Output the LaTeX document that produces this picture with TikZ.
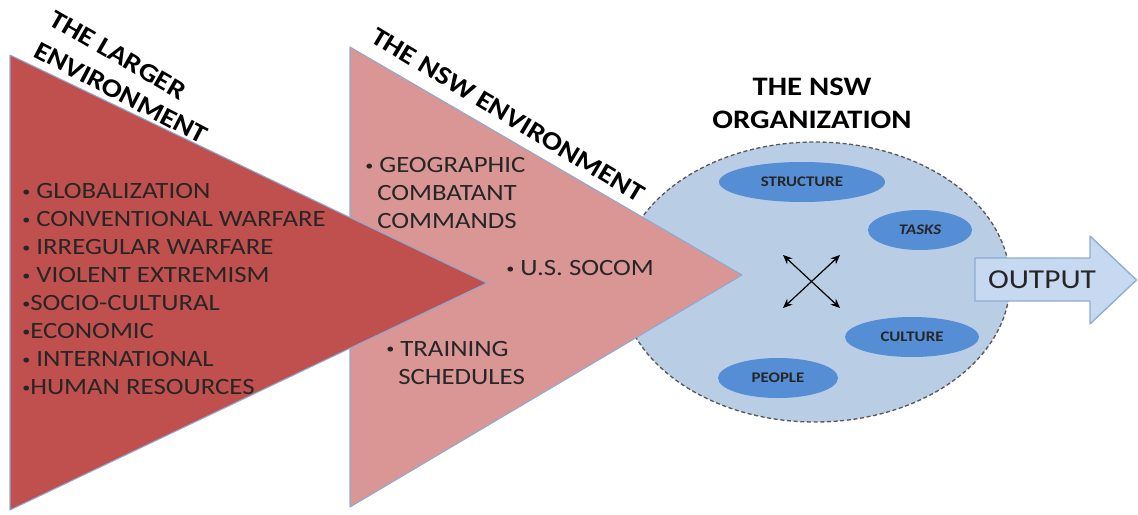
\documentclass[tikz,border=0pt]{standalone}
\usepackage{graphicx}
\usepackage{fontspec}
\setmainfont{Carlito}
\usetikzlibrary{shapes.geometric,arrows.meta}
\definecolor{redtri}{RGB}{192,80,77}
\definecolor{pinktri}{RGB}{217,150,148}
\definecolor{orgfill}{RGB}{185,205,229}
\definecolor{innerfill}{RGB}{85,142,213}
\definecolor{outfill}{RGB}{198,217,241}
\definecolor{edgeblue}{RGB}{143,170,210}
\definecolor{txt}{RGB}{38,38,38}
\newcommand\wide[1]{\scalebox{1.15}[1]{#1}}
\newcommand\bul{\raisebox{0.22ex}{\scalebox{0.6}{•}}}
\begin{document}
\begin{tikzpicture}[x=0.75pt,y=-0.75pt,
  tri/.style={draw=edgeblue, line width=0.8pt, line join=round},
  listtxt/.style={font=\fontsize{17.5}{21}\selectfont, text=txt, inner sep=0pt, anchor=base west},
  slanttitle/.style={font=\bfseries\fontsize{19.5}{24}\selectfont, text=black, inner sep=0pt},
  inell/.style={ellipse, fill=innerfill, inner sep=0pt, font=\bfseries\fontsize{11}{13}\selectfont, text=txt},
  crossarrow/.style={<->, >={Stealth[length=7pt,width=6pt]}, line width=0.9pt, black}]
\useasboundingbox (0,0) rectangle (1138,514);
% organization ellipse
\node[ellipse, fill=orgfill, draw=black!65, densely dashed, line width=1pt,
      minimum width=292.5pt, minimum height=210pt] (org) at (815,282) {};
% triangles
\draw[tri, fill=pinktri] (350,47) -- (742,275) -- (350,507) -- cycle;
\draw[tri, fill=redtri] (10,55) -- (487,283) -- (10,510) -- cycle;
% slanted titles
\node[slanttitle, rotate=-30] (t1a) at (118,55) {\wide{THE LARGER}};
\node[slanttitle, rotate=-27.5] (t1b) at (121,93) {\wide{ENVIRONMENT}};
\node[slanttitle, rotate=-31] (t2) at (508,115) {\wide{THE NSW ENVIRONMENT}};
\node[font=\bfseries\fontsize{20}{25}\selectfont, align=center, inner sep=0pt] (t3) at (812,103.5) {\wide{THE NSW}\\\wide{ORGANIZATION}};
% larger environment list
\foreach \t [count=\i] in {\bul{} GLOBALIZATION, \bul{} CONVENTIONAL WARFARE, \bul{} IRREGULAR WARFARE, \bul{} VIOLENT EXTREMISM, \bul{}SOCIO-CULTURAL, \bul{}ECONOMIC, \bul{} INTERNATIONAL, \bul{}HUMAN RESOURCES}
  \node[listtxt] (l\i) at (22,{198.5+(\i-1)*28}) {\wide{\t}};
% NSW environment list
\node[listtxt] (m1) at (365,172.5) {\wide{\bul{} GEOGRAPHIC}};
\node[listtxt] (m2) at (377,200) {\wide{COMBATANT}};
\node[listtxt] (m3) at (377,228) {\wide{COMMANDS}};
\node[listtxt] (m4) at (506,275.5) {\wide{\bul{} U.S. SOCOM}};
\node[listtxt] (m5) at (386,356) {\wide{\bul{} TRAINING}};
\node[listtxt] (m6) at (398,384.5) {\wide{SCHEDULES}};
% inner ellipses
\node[inell, minimum width=124.5pt, minimum height=30pt] (struct) at (802,182) {\wide{STRUCTURE}};
\node[inell, minimum width=78pt, minimum height=30pt] (tasks) at (920,230) {\wide{\itshape TASKS}};
\node[inell, minimum width=100.5pt, minimum height=30pt] (culture) at (912,337) {\wide{CULTURE}};
\node[inell, minimum width=90pt, minimum height=30pt] (people) at (778,378) {\wide{PEOPLE}};
% cross arrows
\coordinate (x1) at (783,255);
\coordinate (x2) at (840,308);
\coordinate (x3) at (840,255);
\coordinate (x4) at (783,308);
\draw[crossarrow] (x1) -- (x2);
\draw[crossarrow] (x3) -- (x4);
% output arrow
\draw[fill=outfill, draw=edgeblue, line width=1pt, line join=round]
  (975,258) -- (1090,258) -- (1090,236) -- (1136.5,280) -- (1090,324) -- (1090,301) -- (975,301) -- cycle;
\node[font=\fontsize{20.5}{24}\selectfont, text=txt, inner sep=0pt] (out) at (1042,280) {\wide{OUTPUT}};
\end{tikzpicture}
\end{document}
